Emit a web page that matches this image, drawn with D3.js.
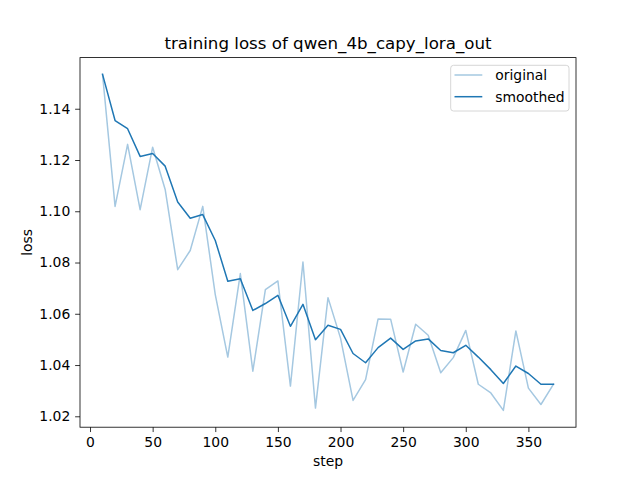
<!DOCTYPE html>
<html>
<head>
<meta charset="utf-8">
<script src="https://cdn.jsdelivr.net/npm/d3@7"></script>
<style>
  html, body { margin: 0; padding: 0; background: #fff; }
  svg { display: block; font-family: "DejaVu Sans", sans-serif; }
</style>
</head>
<body>
<svg id="chart" width="640" height="480"></svg>
<script>
const steps = [10,20,30,40,50,60,70,80,90,100,110,120,130,140,150,160,170,180,190,200,210,220,230,240,250,260,270,280,290,300,310,320,330,340,350,360,370];
const original = [1.1534,1.1019,1.1261,1.1006,1.1250,1.1085,1.0772,1.0847,1.1019,1.0675,1.0431,1.0757,1.0376,1.0694,1.0728,1.0318,1.0802,1.0232,1.0663,1.0505,1.0262,1.0343,1.0580,1.0579,1.0373,1.0559,1.0516,1.0370,1.0429,1.0535,1.0325,1.0291,1.0223,1.0533,1.0310,1.0246,1.0325];
const smoothed = [1.1534,1.1354,1.1322,1.1214,1.1225,1.1176,1.1036,1.0973,1.0987,1.0886,1.0727,1.0737,1.0613,1.0640,1.0672,1.0551,1.0637,1.0499,1.0555,1.0539,1.0445,1.0409,1.0468,1.0505,1.0461,1.0494,1.0502,1.0457,1.0448,1.0477,1.0431,1.0382,1.0328,1.0396,1.0367,1.0325,1.0325];
const xTicks = [0,50,100,150,200,250,300,350];
const yTicks = [1.02,1.04,1.06,1.08,1.10,1.12,1.14];
const titleText = "training loss of qwen_4b_capy_lora_out";
const seriesNames = ["original", "smoothed"];

(function () {
const svg = d3.select("#chart");
const mL = 80, mR = 576, mT = 57.6, mB = 427.2;
const C0 = "#1f77b4";
const light = "#a5c8e1";

const xMin = d3.min(steps), xMax = d3.max(steps);
const xPad = (xMax - xMin) * 0.05;
const x = d3.scaleLinear().domain([xMin - xPad, xMax + xPad]).range([mL, mR]);
const allY = original.concat(smoothed);
const yMin = d3.min(allY), yMax = d3.max(allY);
const yPad = (yMax - yMin) * 0.05;
const y = d3.scaleLinear().domain([yMin - yPad, yMax + yPad]).range([mB, mT]);

const fontSize = 13.9;
const tickLen = 4.86;

const xAxis = svg.append("g").attr("transform", `translate(0,${mB})`)
  .call(d3.axisBottom(x).tickValues(xTicks).tickFormat(d3.format("d")).tickSize(tickLen).tickSizeOuter(0).tickPadding(4.86));
xAxis.select(".domain").remove();
xAxis.selectAll("line").attr("stroke", "#000").attr("stroke-width", 0.8);
xAxis.selectAll("text").attr("font-size", fontSize).attr("fill", "#000").attr("font-family", "DejaVu Sans, sans-serif");

const yAxis = svg.append("g").attr("transform", `translate(${mL},0)`)
  .call(d3.axisLeft(y).tickValues(yTicks).tickFormat(d3.format(".2f")).tickSize(tickLen).tickSizeOuter(0).tickPadding(4.86));
yAxis.select(".domain").remove();
yAxis.selectAll("line").attr("stroke", "#000").attr("stroke-width", 0.8);
yAxis.selectAll("text").attr("font-size", fontSize).attr("fill", "#000").attr("font-family", "DejaVu Sans, sans-serif");

svg.append("clipPath").attr("id", "clip").append("rect")
  .attr("x", mL).attr("y", mT).attr("width", mR - mL).attr("height", mB - mT);

const line = d3.line().x((d, i) => x(steps[i])).y(d => y(d));
const plot = svg.append("g").attr("clip-path", "url(#clip)");
plot.append("path").datum(original).attr("d", line)
  .attr("fill", "none").attr("stroke", light).attr("stroke-width", 1.5)
  .attr("stroke-linejoin", "round").attr("stroke-linecap", "square");
plot.append("path").datum(smoothed).attr("d", line)
  .attr("fill", "none").attr("stroke", C0).attr("stroke-width", 1.5)
  .attr("stroke-linejoin", "round").attr("stroke-linecap", "square");

svg.append("rect").attr("x", mL).attr("y", mT).attr("width", mR - mL).attr("height", mB - mT)
  .attr("fill", "none").attr("stroke", "#000").attr("stroke-width", 0.8);

svg.append("text").attr("x", (mL + mR) / 2).attr("y", mT - 8.3)
  .attr("text-anchor", "middle").attr("font-size", 16.67).attr("fill", "#000").text(titleText);

svg.append("text").attr("x", (mL + mR) / 2).attr("y", 466)
  .attr("text-anchor", "middle").attr("font-size", fontSize).attr("fill", "#000").text("step");
svg.append("text").attr("transform", `translate(32,${(mT + mB) / 2}) rotate(-90)`)
  .attr("text-anchor", "middle").attr("font-size", fontSize).attr("fill", "#000").text("loss");

const lg = svg.append("g");
lg.append("rect").attr("x", 450.7).attr("y", 65.3).attr("width", 118.3).attr("height", 45.7)
  .attr("rx", 2.8).attr("fill", "#fff").attr("fill-opacity", 0.8).attr("stroke", "#cccccc").attr("stroke-width", 0.8);
const legColors = [light, C0];
seriesNames.forEach((name, i) => {
  const ly = 75 + i * 21.7;
  lg.append("line").attr("x1", 454.5).attr("x2", 482.3).attr("y1", ly).attr("y2", ly)
    .attr("stroke", legColors[i]).attr("stroke-width", 1.5);
  lg.append("text").attr("x", 495.3).attr("y", ly).attr("dy", "0.35em")
    .attr("font-size", fontSize).attr("fill", "#000").text(name);
});
})();
</script>
</body>
</html>
